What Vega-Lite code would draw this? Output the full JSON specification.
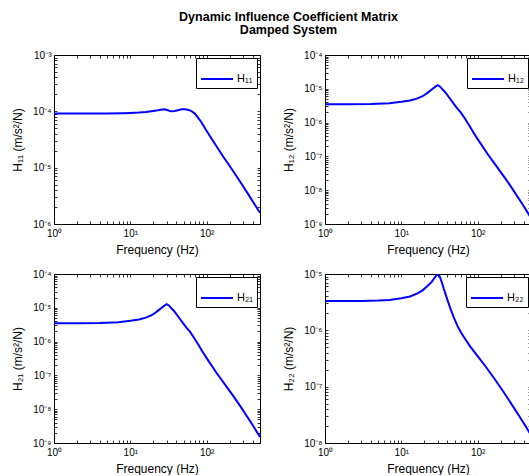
{
  "$schema": "https://vega.github.io/schema/vega-lite/v6.json",
  "background": "white",
  "padding": {"left": 11, "top": 11, "right": 0, "bottom": 0},
  "title": {
    "text": ["Dynamic Influence Coefficient Matrix", "Damped System"],
    "font": "Liberation Sans",
    "fontSize": 12.5,
    "fontWeight": "bold",
    "color": "#000",
    "anchor": "middle",
    "lineHeight": 13,
    "offset": 13,
    "dx": 17
  },
  "datasets": {
    "h11": [
      {"f": 1, "h": 9.12e-5}, {"f": 2, "h": 9.12e-5}, {"f": 5, "h": 9.16e-5}, {"f": 8, "h": 9.27e-5},
      {"f": 10, "h": 9.38e-5}, {"f": 13, "h": 9.55e-5}, {"f": 16, "h": 9.75e-5}, {"f": 20, "h": 1.012e-4},
      {"f": 22, "h": 1.03e-4}, {"f": 25, "h": 1.067e-4}, {"f": 28, "h": 1.089e-4}, {"f": 31, "h": 1.047e-4},
      {"f": 34, "h": 1.0e-4}, {"f": 38, "h": 1.012e-4}, {"f": 42, "h": 1.047e-4}, {"f": 47, "h": 1.084e-4},
      {"f": 52, "h": 1.091e-4}, {"f": 58, "h": 1.059e-4}, {"f": 63, "h": 1.012e-4}, {"f": 70, "h": 9.12e-5},
      {"f": 77, "h": 7.76e-5}, {"f": 85, "h": 6.46e-5}, {"f": 100, "h": 4.49e-5}, {"f": 130, "h": 2.57e-5},
      {"f": 166, "h": 1.55e-5}, {"f": 210, "h": 9.77e-6}, {"f": 275, "h": 5.62e-6}, {"f": 350, "h": 3.39e-6},
      {"f": 420, "h": 2.29e-6}, {"f": 500, "h": 1.58e-6}
    ],
    "h12": [
      {"f": 1, "h": 3.5e-6}, {"f": 2, "h": 3.51e-6}, {"f": 4, "h": 3.55e-6}, {"f": 7, "h": 3.73e-6},
      {"f": 10, "h": 4.12e-6}, {"f": 13, "h": 4.52e-6}, {"f": 16, "h": 5.13e-6}, {"f": 19, "h": 6.03e-6},
      {"f": 22, "h": 7.59e-6}, {"f": 25, "h": 9.55e-6}, {"f": 28, "h": 1.161e-5}, {"f": 30, "h": 1.274e-5},
      {"f": 32, "h": 1.175e-5}, {"f": 35, "h": 9.33e-6}, {"f": 38, "h": 7.71e-6}, {"f": 43, "h": 5.25e-6},
      {"f": 49, "h": 3.5e-6}, {"f": 55, "h": 2.51e-6}, {"f": 60, "h": 2.0e-6}, {"f": 68, "h": 1.32e-6},
      {"f": 78, "h": 8.02e-7}, {"f": 88, "h": 5.13e-7}, {"f": 100, "h": 3.24e-7}, {"f": 135, "h": 1.175e-7},
      {"f": 180, "h": 4.79e-8}, {"f": 225, "h": 2.4e-8}, {"f": 280, "h": 1.175e-8}, {"f": 337, "h": 6.17e-9},
      {"f": 400, "h": 3.39e-9}, {"f": 500, "h": 1.51e-9}
    ],
    "h22": [
      {"f": 1, "h": 3.31e-6}, {"f": 3, "h": 3.33e-6}, {"f": 5, "h": 3.39e-6}, {"f": 7, "h": 3.47e-6},
      {"f": 10, "h": 3.72e-6}, {"f": 13, "h": 3.98e-6}, {"f": 16, "h": 4.47e-6}, {"f": 19, "h": 5.13e-6},
      {"f": 22, "h": 6.12e-6}, {"f": 25, "h": 7.24e-6}, {"f": 27, "h": 8.41e-6}, {"f": 29, "h": 9.55e-6},
      {"f": 30, "h": 9.82e-6}, {"f": 32, "h": 8.91e-6}, {"f": 34, "h": 7.08e-6}, {"f": 36, "h": 5.48e-6},
      {"f": 40, "h": 3.55e-6}, {"f": 44, "h": 2.42e-6}, {"f": 49, "h": 1.66e-6}, {"f": 54, "h": 1.225e-6},
      {"f": 60, "h": 9.33e-7}, {"f": 66, "h": 7.59e-7}, {"f": 80, "h": 5.13e-7}, {"f": 100, "h": 3.49e-7},
      {"f": 130, "h": 2.19e-7}, {"f": 166, "h": 1.38e-7}, {"f": 210, "h": 8.71e-8}, {"f": 275, "h": 5.01e-8},
      {"f": 350, "h": 3.02e-8}, {"f": 420, "h": 2.04e-8}, {"f": 500, "h": 1.38e-8}
    ]
  },
  "config": {
    "font": "Liberation Sans",
    "view": {"stroke": "#000", "strokeWidth": 1},
    "axis": {
      "labelFont": "Liberation Sans",
      "titleFont": "Liberation Sans",
      "labelFontSize": 10,
      "titleFontSize": 12,
      "titleFontWeight": "normal",
      "labelColor": "#000",
      "titleColor": "#000",
      "domain": false,
      "grid": false,
      "ticks": true,
      "tickColor": "#000",
      "tickSize": -3,
      "tickWidth": 0.8,
      "labelFlush": false,
      "labelOverlap": false,
      "labelBound": false
    },
    "axisX": {"labelPadding": 7, "titlePadding": 6},
    "axisY": {"labelPadding": 6, "titlePadding": 8},
    "legend": {
      "orient": "top-right",
      "offset": 3,
      "title": null,
      "strokeColor": "#000",
      "fillColor": "#fff",
      "padding": 4,
      "symbolType": "stroke",
      "symbolSize": 1024,
      "symbolStrokeWidth": 2,
      "labelFont": "Liberation Sans",
      "labelFontSize": 11,
      "labelColor": "#000",
      "labelOffset": 3
    }
  },
  "columns": 2,
  "spacing": {"row": 12, "column": 21},
  "resolve": {"scale": {"color": "independent"}, "legend": {"color": "independent"}},
  "concat": [
    {
      "width": 206, "height": 169,
      "data": {"name": "h11"},
      "layer": [
        {
          "mark": {"type": "line", "strokeWidth": 2, "clip": true},
          "encoding": {
            "x": {"field": "f", "type": "quantitative",
              "scale": {"type": "log", "domain": [1, 500], "nice": false},
              "axis": {"orient": "bottom", "title": "Frequency (Hz)",
                "values": [1,2,3,4,5,6,7,8,9,10,20,30,40,50,60,70,80,90,100,200,300,400,500],
                "labelExpr": "abs(log(datum.value)/LN10 - round(log(datum.value)/LN10)) < 0.001 ? '10' + (round(log(datum.value)/LN10) < 0 ? '⁻' : '') + substring('⁰¹²³⁴⁵⁶⁷⁸⁹', abs(round(log(datum.value)/LN10)), abs(round(log(datum.value)/LN10)) + 1) : ''"}},
            "y": {"field": "h", "type": "quantitative",
              "scale": {"type": "log", "domain": [1e-6, 1e-3], "nice": false},
              "axis": {"orient": "left", "title": "H₁₁ (m/s²/N)",
                "values": [1e-6,2e-6,3e-6,4e-6,5e-6,6e-6,7e-6,8e-6,9e-6,1e-5,2e-5,3e-5,4e-5,5e-5,6e-5,7e-5,8e-5,9e-5,1e-4,2e-4,3e-4,4e-4,5e-4,6e-4,7e-4,8e-4,9e-4,1e-3],
                "labelExpr": "abs(log(datum.value)/LN10 - round(log(datum.value)/LN10)) < 0.001 ? '10' + (round(log(datum.value)/LN10) < 0 ? '⁻' : '') + substring('⁰¹²³⁴⁵⁶⁷⁸⁹', abs(round(log(datum.value)/LN10)), abs(round(log(datum.value)/LN10)) + 1) : ''"}},
            "color": {"datum": "H₁₁", "scale": {"range": ["#0000ff"]}}
          }
        },
        {
          "mark": {"type": "line", "opacity": 0},
          "encoding": {
            "x": {"field": "f", "type": "quantitative",
              "axis": {"orient": "top", "title": null, "labels": false,
                "values": [1,2,3,4,5,6,7,8,9,10,20,30,40,50,60,70,80,90,100,200,300,400,500]}},
            "y": {"field": "h", "type": "quantitative",
              "axis": {"orient": "right", "title": null, "labels": false,
                "values": [1e-6,2e-6,3e-6,4e-6,5e-6,6e-6,7e-6,8e-6,9e-6,1e-5,2e-5,3e-5,4e-5,5e-5,6e-5,7e-5,8e-5,9e-5,1e-4,2e-4,3e-4,4e-4,5e-4,6e-4,7e-4,8e-4,9e-4,1e-3]}}
          }
        }
      ],
      "resolve": {"axis": {"x": "independent", "y": "independent"}}
    },
    {
      "width": 206, "height": 169,
      "data": {"name": "h12"},
      "layer": [
        {
          "mark": {"type": "line", "strokeWidth": 2, "clip": true},
          "encoding": {
            "x": {"field": "f", "type": "quantitative",
              "scale": {"type": "log", "domain": [1, 500], "nice": false},
              "axis": {"orient": "bottom", "title": "Frequency (Hz)",
                "values": [1,2,3,4,5,6,7,8,9,10,20,30,40,50,60,70,80,90,100,200,300,400,500],
                "labelExpr": "abs(log(datum.value)/LN10 - round(log(datum.value)/LN10)) < 0.001 ? '10' + (round(log(datum.value)/LN10) < 0 ? '⁻' : '') + substring('⁰¹²³⁴⁵⁶⁷⁸⁹', abs(round(log(datum.value)/LN10)), abs(round(log(datum.value)/LN10)) + 1) : ''"}},
            "y": {"field": "h", "type": "quantitative",
              "scale": {"type": "log", "domain": [1e-9, 1e-4], "nice": false},
              "axis": {"orient": "left", "title": "H₁₂ (m/s²/N)",
                "values": [1e-9,2e-9,3e-9,4e-9,5e-9,6e-9,7e-9,8e-9,9e-9,1e-8,2e-8,3e-8,4e-8,5e-8,6e-8,7e-8,8e-8,9e-8,1e-7,2e-7,3e-7,4e-7,5e-7,6e-7,7e-7,8e-7,9e-7,1e-6,2e-6,3e-6,4e-6,5e-6,6e-6,7e-6,8e-6,9e-6,1e-5,2e-5,3e-5,4e-5,5e-5,6e-5,7e-5,8e-5,9e-5,1e-4],
                "labelExpr": "abs(log(datum.value)/LN10 - round(log(datum.value)/LN10)) < 0.001 ? '10' + (round(log(datum.value)/LN10) < 0 ? '⁻' : '') + substring('⁰¹²³⁴⁵⁶⁷⁸⁹', abs(round(log(datum.value)/LN10)), abs(round(log(datum.value)/LN10)) + 1) : ''"}},
            "color": {"datum": "H₁₂", "scale": {"range": ["#0000ff"]}}
          }
        },
        {
          "mark": {"type": "line", "opacity": 0},
          "encoding": {
            "x": {"field": "f", "type": "quantitative",
              "axis": {"orient": "top", "title": null, "labels": false,
                "values": [1,2,3,4,5,6,7,8,9,10,20,30,40,50,60,70,80,90,100,200,300,400,500]}},
            "y": {"field": "h", "type": "quantitative",
              "axis": {"orient": "right", "title": null, "labels": false,
                "values": [1e-9,2e-9,3e-9,4e-9,5e-9,6e-9,7e-9,8e-9,9e-9,1e-8,2e-8,3e-8,4e-8,5e-8,6e-8,7e-8,8e-8,9e-8,1e-7,2e-7,3e-7,4e-7,5e-7,6e-7,7e-7,8e-7,9e-7,1e-6,2e-6,3e-6,4e-6,5e-6,6e-6,7e-6,8e-6,9e-6,1e-5,2e-5,3e-5,4e-5,5e-5,6e-5,7e-5,8e-5,9e-5,1e-4]}}
          }
        }
      ],
      "resolve": {"axis": {"x": "independent", "y": "independent"}}
    },
    {
      "width": 206, "height": 169,
      "data": {"name": "h12"},
      "layer": [
        {
          "mark": {"type": "line", "strokeWidth": 2, "clip": true},
          "encoding": {
            "x": {"field": "f", "type": "quantitative",
              "scale": {"type": "log", "domain": [1, 500], "nice": false},
              "axis": {"orient": "bottom", "title": "Frequency (Hz)",
                "values": [1,2,3,4,5,6,7,8,9,10,20,30,40,50,60,70,80,90,100,200,300,400,500],
                "labelExpr": "abs(log(datum.value)/LN10 - round(log(datum.value)/LN10)) < 0.001 ? '10' + (round(log(datum.value)/LN10) < 0 ? '⁻' : '') + substring('⁰¹²³⁴⁵⁶⁷⁸⁹', abs(round(log(datum.value)/LN10)), abs(round(log(datum.value)/LN10)) + 1) : ''"}},
            "y": {"field": "h", "type": "quantitative",
              "scale": {"type": "log", "domain": [1e-9, 1e-4], "nice": false},
              "axis": {"orient": "left", "title": "H₂₁ (m/s²/N)",
                "values": [1e-9,2e-9,3e-9,4e-9,5e-9,6e-9,7e-9,8e-9,9e-9,1e-8,2e-8,3e-8,4e-8,5e-8,6e-8,7e-8,8e-8,9e-8,1e-7,2e-7,3e-7,4e-7,5e-7,6e-7,7e-7,8e-7,9e-7,1e-6,2e-6,3e-6,4e-6,5e-6,6e-6,7e-6,8e-6,9e-6,1e-5,2e-5,3e-5,4e-5,5e-5,6e-5,7e-5,8e-5,9e-5,1e-4],
                "labelExpr": "abs(log(datum.value)/LN10 - round(log(datum.value)/LN10)) < 0.001 ? '10' + (round(log(datum.value)/LN10) < 0 ? '⁻' : '') + substring('⁰¹²³⁴⁵⁶⁷⁸⁹', abs(round(log(datum.value)/LN10)), abs(round(log(datum.value)/LN10)) + 1) : ''"}},
            "color": {"datum": "H₂₁", "scale": {"range": ["#0000ff"]}}
          }
        },
        {
          "mark": {"type": "line", "opacity": 0},
          "encoding": {
            "x": {"field": "f", "type": "quantitative",
              "axis": {"orient": "top", "title": null, "labels": false,
                "values": [1,2,3,4,5,6,7,8,9,10,20,30,40,50,60,70,80,90,100,200,300,400,500]}},
            "y": {"field": "h", "type": "quantitative",
              "axis": {"orient": "right", "title": null, "labels": false,
                "values": [1e-9,2e-9,3e-9,4e-9,5e-9,6e-9,7e-9,8e-9,9e-9,1e-8,2e-8,3e-8,4e-8,5e-8,6e-8,7e-8,8e-8,9e-8,1e-7,2e-7,3e-7,4e-7,5e-7,6e-7,7e-7,8e-7,9e-7,1e-6,2e-6,3e-6,4e-6,5e-6,6e-6,7e-6,8e-6,9e-6,1e-5,2e-5,3e-5,4e-5,5e-5,6e-5,7e-5,8e-5,9e-5,1e-4]}}
          }
        }
      ],
      "resolve": {"axis": {"x": "independent", "y": "independent"}}
    },
    {
      "width": 206, "height": 169,
      "data": {"name": "h22"},
      "layer": [
        {
          "mark": {"type": "line", "strokeWidth": 2, "clip": true},
          "encoding": {
            "x": {"field": "f", "type": "quantitative",
              "scale": {"type": "log", "domain": [1, 500], "nice": false},
              "axis": {"orient": "bottom", "title": "Frequency (Hz)",
                "values": [1,2,3,4,5,6,7,8,9,10,20,30,40,50,60,70,80,90,100,200,300,400,500],
                "labelExpr": "abs(log(datum.value)/LN10 - round(log(datum.value)/LN10)) < 0.001 ? '10' + (round(log(datum.value)/LN10) < 0 ? '⁻' : '') + substring('⁰¹²³⁴⁵⁶⁷⁸⁹', abs(round(log(datum.value)/LN10)), abs(round(log(datum.value)/LN10)) + 1) : ''"}},
            "y": {"field": "h", "type": "quantitative",
              "scale": {"type": "log", "domain": [1e-8, 1e-5], "nice": false},
              "axis": {"orient": "left", "title": "H₂₂ (m/s²/N)",
                "values": [1e-8,2e-8,3e-8,4e-8,5e-8,6e-8,7e-8,8e-8,9e-8,1e-7,2e-7,3e-7,4e-7,5e-7,6e-7,7e-7,8e-7,9e-7,1e-6,2e-6,3e-6,4e-6,5e-6,6e-6,7e-6,8e-6,9e-6,1e-5],
                "labelExpr": "abs(log(datum.value)/LN10 - round(log(datum.value)/LN10)) < 0.001 ? '10' + (round(log(datum.value)/LN10) < 0 ? '⁻' : '') + substring('⁰¹²³⁴⁵⁶⁷⁸⁹', abs(round(log(datum.value)/LN10)), abs(round(log(datum.value)/LN10)) + 1) : ''"}},
            "color": {"datum": "H₂₂", "scale": {"range": ["#0000ff"]}}
          }
        },
        {
          "mark": {"type": "line", "opacity": 0},
          "encoding": {
            "x": {"field": "f", "type": "quantitative",
              "axis": {"orient": "top", "title": null, "labels": false,
                "values": [1,2,3,4,5,6,7,8,9,10,20,30,40,50,60,70,80,90,100,200,300,400,500]}},
            "y": {"field": "h", "type": "quantitative",
              "axis": {"orient": "right", "title": null, "labels": false,
                "values": [1e-8,2e-8,3e-8,4e-8,5e-8,6e-8,7e-8,8e-8,9e-8,1e-7,2e-7,3e-7,4e-7,5e-7,6e-7,7e-7,8e-7,9e-7,1e-6,2e-6,3e-6,4e-6,5e-6,6e-6,7e-6,8e-6,9e-6,1e-5]}}
          }
        }
      ],
      "resolve": {"axis": {"x": "independent", "y": "independent"}}
    }
  ]
}
